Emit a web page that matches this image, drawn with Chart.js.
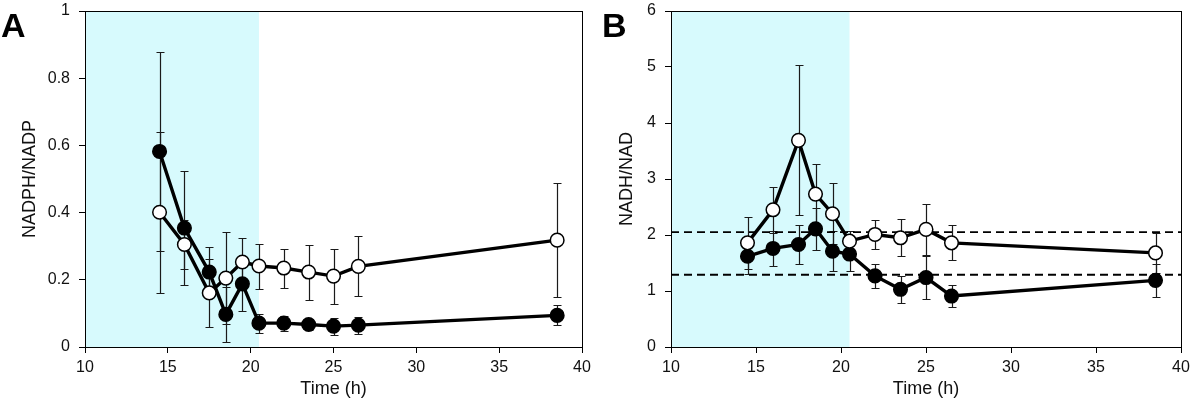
<!DOCTYPE html>
<html>
<head>
<meta charset="utf-8">
<script src="https://cdn.jsdelivr.net/npm/chart.js@4.4.1/dist/chart.umd.min.js"></script>
<style>
  html, body { margin: 0; padding: 0; background: #fff; }
  #wrap { position: relative; width: 1200px; height: 408px; overflow: hidden; }
  .panel { position: absolute; top: 0; width: 600px; height: 408px; }
  .letter { position: absolute; top: 8px; font: bold 34px "Liberation Sans", Arial, sans-serif; line-height: 34px; color: #000; }
</style>
</head>
<body>
<div id="wrap">
  <div class="panel" style="left:0"><canvas id="cA" width="600" height="408"></canvas></div>
  <div class="panel" style="left:600px"><canvas id="cB" width="600" height="408"></canvas></div>
  <div class="letter" style="left:1px">A</div>
  <div class="letter" style="left:602px">B</div>
</div>
<script>
// ---- data ----
const timeH = [14.5, 16, 17.5, 18.5, 19.5, 20.5, 22, 23.5, 25, 26.5, 38.5];
const xTicks = [10, 15, 20, 25, 30, 35, 40];
const yTicksA = [0, 0.2, 0.4, 0.6, 0.8, 1];
const yTicksB = [0, 1, 2, 3, 4, 5, 6];
const shadeRange = [10, 20.5];

// Panel A: NADPH/NADP
const nadphFilled    = [0.582, 0.354, 0.223, 0.097, 0.188, 0.071, 0.071, 0.067, 0.062, 0.065, 0.094];
const nadphFilledErr = [0.297, 0.170, 0.075, 0.082, 0.081, 0.028, 0.022, 0.015, 0.025, 0.025, 0.030];
const nadphOpen      = [0.401, 0.305, 0.161, 0.205, 0.253, 0.241, 0.235, 0.223, 0.211, 0.240, 0.318];
const nadphOpenErr   = [0.240, 0.072, 0.100, 0.137, 0.071, 0.067, 0.058, 0.082, 0.082, 0.089, 0.170];

// Panel B: NADH/NAD
const nadhFilled    = [1.62, 1.76, 1.83, 2.11, 1.71, 1.66, 1.27, 1.03, 1.24, 0.91, 1.19];
const nadhFilledErr = [0.32, 0.32, 0.35, 0.38, 0.36, 0.30, 0.22, 0.24, 0.39, 0.20, 0.30];
const nadhOpen      = [1.86, 2.45, 3.69, 2.73, 2.38, 1.89, 2.01, 1.95, 2.10, 1.86, 1.68];
const nadhOpenErr   = [0.46, 0.41, 1.34, 0.53, 0.54, 0.19, 0.26, 0.33, 0.46, 0.31, 0.36];
const nadhRefLines  = [2.05, 1.29];

// ---- plugins ----
const FONT = '"Liberation Sans", Arial, sans-serif';

const shadePlugin = {
  id: 'shade',
  beforeDatasetsDraw(chart) {
    const {ctx, chartArea, scales} = chart;
    const x0 = scales.x.getPixelForValue(shadeRange[0]);
    const x1 = scales.x.getPixelForValue(shadeRange[1]);
    ctx.save();
    ctx.fillStyle = '#d7fafd';
    ctx.fillRect(x0, chartArea.top, x1 - x0, chartArea.bottom - chartArea.top);
    ctx.restore();
    // error bars
    chart.data.datasets.forEach((ds) => {
      if (!ds.errors) return;
      ctx.save();
      ctx.strokeStyle = '#1a1a1a';
      ctx.lineWidth = 1.2;
      ds.data.forEach((p, i) => {
        const e = ds.errors[i];
        const px = Math.round(scales.x.getPixelForValue(p.x)) + 0.5;
        const yt = Math.round(scales.y.getPixelForValue(p.y + e)) + 0.5;
        const yb = Math.round(scales.y.getPixelForValue(p.y - e)) + 0.5;
        ctx.beginPath();
        ctx.moveTo(px, yt); ctx.lineTo(px, yb);
        ctx.moveTo(px - 4, yt); ctx.lineTo(px + 4, yt);
        ctx.moveTo(px - 4, yb); ctx.lineTo(px + 4, yb);
        ctx.stroke();
      });
      ctx.restore();
    });
  },
  afterDraw(chart) {
    const {ctx, chartArea} = chart;
    ctx.save();
    ctx.strokeStyle = '#000';
    ctx.lineWidth = 1;
    ctx.strokeRect(Math.round(chartArea.left) + 0.5, Math.round(chartArea.top) + 0.5,
                   Math.round(chartArea.right - chartArea.left), Math.round(chartArea.bottom - chartArea.top));
    ctx.restore();
  }
};

function pts(ys) { return timeH.map((t, i) => ({x: t, y: ys[i]})); }

function seriesDs(ys, errs, filled) {
  return {
    data: pts(ys),
    errors: errs,
    borderColor: '#000',
    borderWidth: 3.4,
    pointRadius: 6.8,
    pointBorderWidth: 1.5,
    pointBorderColor: '#000',
    pointBackgroundColor: filled ? '#000' : '#fff',
    tension: 0,
    fill: false
  };
}

function makeChart(id, yTicks, yMax, yTitle, datasets, yWidth, rightPad, titlePad) {
  return new Chart(document.getElementById(id), {
    type: 'line',
    data: { datasets },
    plugins: [shadePlugin],
    options: {
      responsive: false,
      animation: false,
      events: [],
      layout: { padding: { left: 0, top: 11, right: rightPad, bottom: 0 } },
      plugins: { legend: { display: false }, tooltip: { enabled: false } },
      scales: {
        x: {
          type: 'linear', min: xTicks[0], max: xTicks[xTicks.length - 1],
          afterBuildTicks(s) { s.ticks = xTicks.map(v => ({value: v})); },
          afterFit(s) { s.height = 61; s.paddingLeft = 0; s.paddingRight = 0; },
          grid: { display: true, drawOnChartArea: false, drawTicks: true, tickLength: 6, color: '#000' },
          border: { display: true, color: '#000', width: 1 },
          ticks: { color: '#111', font: { family: FONT, size: 16 }, padding: 5, maxRotation: 0 },
          title: { display: true, text: 'Time (h)', color: '#111', font: { family: FONT, size: 18 }, padding: { top: 0, bottom: 8 } }
        },
        y: {
          type: 'linear', min: 0, max: yMax,
          afterBuildTicks(s) { s.ticks = yTicks.map(v => ({value: v})); },
          afterFit(s) { s.width = yWidth; s.paddingTop = 0; s.paddingBottom = 0; },
          grid: { display: true, drawOnChartArea: false, drawTicks: true, tickLength: 6, color: '#000' },
          border: { display: true, color: '#000', width: 1 },
          ticks: { color: '#111', font: { family: FONT, size: 16 }, padding: 9,
                   callback: (v) => String(v) },
          title: { display: true, text: yTitle, color: '#111', font: { family: FONT, size: 18 }, padding: { top: titlePad, bottom: 0 } }
        }
      }
    }
  });
}

const dsA = [
  seriesDs(nadphOpen, nadphOpenErr, false),
  seriesDs(nadphFilled, nadphFilledErr, true)
];
makeChart('cA', yTicksA, 1, 'NADPH/NADP', dsA, 85, 18, 19);

const dsB = [
  seriesDs(nadhOpen, nadhOpenErr, false),
  seriesDs(nadhFilled, nadhFilledErr, true)
].concat(nadhRefLines.map(v => ({
  data: [{x: xTicks[0], y: v}, {x: xTicks[xTicks.length - 1], y: v}],
  borderColor: '#000', borderWidth: 1.8, borderDash: [8, 5],
  pointRadius: 0, fill: false, tension: 0
})));
makeChart('cB', yTicksB, 6, 'NADH/NAD', dsB, 71, 19, 16);
</script>
</body>
</html>
